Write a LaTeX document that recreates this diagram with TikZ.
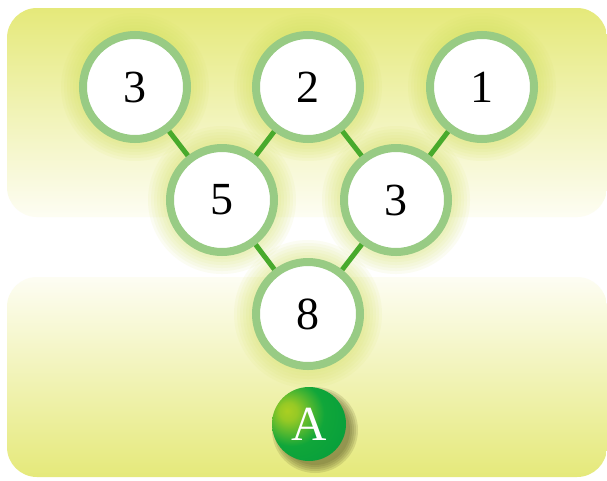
\documentclass[tikz,border=0pt]{standalone}
\usepackage{fontspec}
\setmainfont{Liberation Serif}
\definecolor{panelTop}{HTML}{E5E97A}
\definecolor{panelMid}{HTML}{EFF2AE}
\definecolor{panelLow}{HTML}{FDFDF3}
\definecolor{ringgreen}{HTML}{98CB84}
\definecolor{glowc}{HTML}{D2E05A}
\definecolor{linkgreen}{HTML}{48AA2C}
\definecolor{ballhi}{HTML}{AACF22}
\definecolor{ballmid}{HTML}{5CB82E}
\definecolor{ballg}{HTML}{10A63A}
\definecolor{balldk}{HTML}{009A3C}
\definecolor{shadowc}{HTML}{5A5826}
\pgfdeclareradialshading{ballA}{\pgfpoint{-15bp}{9bp}}{color(0bp)=(ballhi); color(6bp)=(ballhi!75!ballmid); color(22bp)=(ballg); color(50bp)=(balldk); color(100bp)=(balldk)}
\pgfdeclarelayer{back}
\pgfdeclarelayer{mid}
\pgfsetlayers{back,mid,main}
\tikzset{
  numc/.style={circle, minimum size=104pt, inner sep=0pt, fill=white, draw=ringgreen, line width=8pt, font=\fontsize{46}{46}\selectfont},
  ballnode/.style={circle, minimum size=74pt, inner sep=0pt, shading=ballA, text=white, font=\fontsize{49}{49}\selectfont},
  link/.style={draw=linkgreen, line width=5pt},
  panel/.style={rounded corners=30pt}
}
\begin{document}
\begin{tikzpicture}[x=1pt,y=-1pt]
\useasboundingbox (0,0) rectangle (607,480);
% nodes
\node[numc] (t1) at (135,87) {3};
\node[numc] (t2) at (308,87) {2};
\node[numc] (t3) at (482,87) {1};
\node[numc] (m1) at (222,200) {5};
\node[numc] (m2) at (396,200) {3};
\node[numc] (b1) at (308,314) {8};
\node[ballnode] (a) at (309,424) {A};
\begin{pgfonlayer}{back}
  \fill[white] (0,0) rectangle (607,480);
  \shade[panel, top color=panelTop, middle color=panelMid, bottom color=panelLow] (7,8) rectangle (607,217);
  \shade[panel, top color=panelLow, middle color=panelMid, bottom color=panelTop] (7,277) rectangle (607,477);
  \foreach \n in {t1,t2,t3,m1,m2,b1}{
    \foreach \r in {74,71,...,56}{
      \fill[glowc, opacity=0.08] (\n.center) circle (\r pt);
    }
  }
\end{pgfonlayer}
\begin{pgfonlayer}{mid}
  \draw[link] (t1.center) -- (m1.center);
  \draw[link] (t2.center) -- (m1.center);
  \draw[link] (t2.center) -- (m2.center);
  \draw[link] (t3.center) -- (m2.center);
  \draw[link] (m1.center) -- (b1.center);
  \draw[link] (m2.center) -- (b1.center);
  \foreach \r in {43,41,...,35}{
    \fill[shadowc, opacity=0.16] ([shift={(6,6)}]a.center) circle (\r pt);
  }
\end{pgfonlayer}
\end{tikzpicture}
\end{document}
